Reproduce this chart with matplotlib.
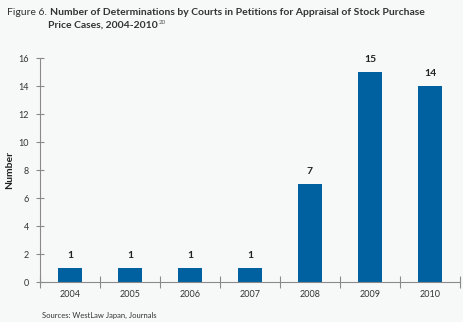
import numpy as np
import matplotlib.pyplot as plt

years = ['2004', '2005', '2006', '2007', '2008', '2009', '2010']
counts = [1, 1, 1, 1, 7, 15, 14]
yticks = [0, 2, 4, 6, 8, 10, 12, 14, 16]

plt.rcParams['font.family'] = ['Lato', 'DejaVu Sans']
bg = '#f7f9f8'
axcol = '#8a8a8a'
W, H = 463, 322

fig = plt.figure(figsize=(W / 100, H / 100), dpi=100, facecolor=bg)
ax = fig.add_axes([40 / W, (H - 282) / H, 420 / W, 224 / H], facecolor=bg)

x = np.arange(len(years))
bars = ax.bar(x, counts, width=0.4, color='#0061a1')
for b, v in zip(bars, counts):
    ax.text(b.get_x() + b.get_width() / 2, v + 0.55, str(v), ha='center', va='bottom',
            fontsize=7.5, fontweight='bold', color='#222222')

ax.set_xlim(-0.5, len(years) - 0.5)
ax.set_ylim(0, 16)
ax.set_yticks(yticks)
ax.set_xticks(x)
ax.set_xticklabels(years)
ax.set_xticks(np.arange(-0.5, len(years) - 0.4, 1), minor=True)
ax.tick_params(axis='x', which='major', length=0, pad=6, labelsize=6.5, labelcolor='#333333')
ax.tick_params(axis='x', which='minor', direction='inout', length=8, color=axcol, width=0.8)
ax.tick_params(axis='y', direction='inout', length=6, color=axcol, width=0.8,
               labelsize=6.5, labelcolor='#333333', pad=5)

for s in ['top', 'right']:
    ax.spines[s].set_visible(False)
for s in ['left', 'bottom']:
    ax.spines[s].set_color(axcol)
    ax.spines[s].set_linewidth(0.8)

ax.set_ylabel('Number', fontsize=7.5, fontweight='bold', color='#222222')
ax.yaxis.set_label_coords(-26 / 420, 0.5)

t0 = fig.text(7 / W, 1 - 8 / H, 'Figure 6.', fontsize=7.5, color='#333333', va='top', ha='left')
fig.canvas.draw()
b0 = t0.get_window_extent().transformed(fig.transFigure.inverted())
fig.text(b0.x1 + 3 / W, 1 - 8 / H,
         'Number of Determinations by Courts in Petitions for Appraisal of Stock Purchase',
         fontsize=7.5, fontweight='bold', color='#333333', va='top', ha='left')
t2 = fig.text(48 / W, 1 - 21 / H, 'Price Cases, 2004-2010',
              fontsize=7.5, fontweight='bold', color='#333333', va='top', ha='left')
fig.canvas.draw()
bb = t2.get_window_extent().transformed(fig.transFigure.inverted())
fig.text(bb.x1 + 0.002, bb.y1 + 0.002, '20', fontsize=4.5, color='#555555', va='top', ha='left')

fig.text(42 / W, 1 - 319 / H, 'Sources: WestLaw Japan, Journals', fontsize=5.5,
         color='#333333', va='bottom', ha='left')

fig.savefig('out.png', dpi=100, facecolor=bg)
